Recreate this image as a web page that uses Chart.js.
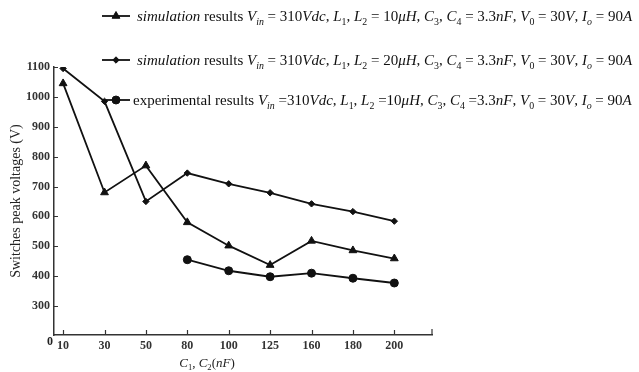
<!DOCTYPE html>
<html>
<head>
<meta charset="utf-8">
<script src="https://cdn.jsdelivr.net/npm/chart.js@4/dist/chart.umd.min.js"></script>
<style>
  html, body { margin: 0; padding: 0; background: #fff; }
  #wrap { width: 639px; height: 372px; }
</style>
</head>
<body>
<div id="wrap"><canvas id="peakChart"></canvas></div>
<script>
// capacitance steps on the x axis (nF)
const capLabels = ['10', '30', '50', '80', '100', '125', '160', '180', '200'];
const yTicks = [300, 400, 500, 600, 700, 800, 900, 1000, 1100];

// switch peak voltages (V)
const sim10uH = [1045, 680, 770, 580, 502, 437, 518, 486, 459];
const sim20uH = [1095, 985, 650, 745, 709, 679, 642, 616, 584];
const experimental = [null, null, null, 455, 418, 398, 410, 393, 377];

// legend text, *..* = italic, _{..} = subscript
const legendText = [
  '*simulation* results *V*_{*in*} = 310*Vdc*, *L*_{1}, *L*_{2} = 10*μH*, *C*_{3}, *C*_{4} = 3.3*nF*, *V*_{0} = 30*V*, *I*_{*o*} = 90*A*',
  '*simulation* results *V*_{*in*} = 310*Vdc*, *L*_{1}, *L*_{2} = 20*μH*, *C*_{3}, *C*_{4} = 3.3*nF*, *V*_{0} = 30*V*, *I*_{*o*} = 90*A*',
  'experimental results *V*_{*in*} =310*Vdc*, *L*_{1}, *L*_{2} =10*μH*, *C*_{3}, *C*_{4} =3.3*nF*, *V*_{0} = 30*V*, *I*_{*o*} = 90*A*'
];
const xTitle = '*C*_{1}, *C*_{2}(*nF*)';

const SERIF = '"Liberation Serif", "Times New Roman", serif';
const INK = '#111';

function toPoints(vals){
  return vals.map((y, i) => ({x: i, y: y})).filter(p => p.y !== null);
}

//split the little markup into runs
function parseRich(str){
  const parts = [];
  let italic = false, sub = false, buf = '';
  const flush = () => { if (buf) { parts.push({t: buf, i: italic, s: sub}); buf = ''; } };
  for (let k = 0; k < str.length; k++) {
    const c = str[k];
    if (c === '*') { flush(); italic = !italic; }
    else if (c === '_' && str[k + 1] === '{') { flush(); sub = true; k++; }
    else if (c === '}' && sub) { flush(); sub = false; }
    else buf += c;
  }
  flush();
  return parts;
}

function runFont(p, size){
  const fs = p.s ? size * 0.66 : size;
  return (p.i ? 'italic ' : '') + fs + 'px ' + SERIF;
}

function richWidth(ctx, str, size){
  let w = 0;
  for (const p of parseRich(str)) { ctx.font = runFont(p, size); w += ctx.measureText(p.t).width; }
  return w;
}

function drawRich(ctx, str, x, y, size){
  ctx.textBaseline = 'alphabetic';
  ctx.textAlign = 'left';
  for (const p of parseRich(str)) {
    ctx.font = runFont(p, size);
    ctx.fillText(p.t, x, y + (p.s ? size * 0.25 : 0));
    x += ctx.measureText(p.t).width;
  }
  return x;
}

const datasets = [
  {label: 'sim 10uH', data: toPoints(sim10uH), pointStyle: 'triangle', pointRadius: 4.5},
  {label: 'sim 20uH', data: toPoints(sim20uH), pointStyle: 'rectRot', pointRadius: 3.2},
  {label: 'experimental', data: toPoints(experimental), pointStyle: 'circle', pointRadius: 4}
].map(d => Object.assign(d, {
  borderColor: INK, backgroundColor: INK, borderWidth: 1.8,
  pointBorderWidth: 1, tension: 0, fill: false
}));

// legend rows, ticks pointing inward, axis title and the lone 0
const decorations = {
  id: 'decorations',
  afterDraw(chart){
    const ctx = chart.ctx;
    const xs = chart.scales.x, ys = chart.scales.y;
    const area = chart.chartArea;
    ctx.save();

    ctx.strokeStyle = '#333';
    ctx.lineWidth = 1.2;
    ctx.beginPath();
    yTicks.forEach(v => {
      const py = Math.round(ys.getPixelForValue(v)) + 0.5;
      ctx.moveTo(area.left, py); ctx.lineTo(area.left + 4, py);
    });
    capLabels.forEach((_, i) => {
      const px = Math.round(xs.getPixelForValue(i)) + 0.5;
      ctx.moveTo(px, area.bottom); ctx.lineTo(px, area.bottom - 5);
    });
    ctx.moveTo(area.right, area.bottom); ctx.lineTo(area.right, area.bottom - 6);
    ctx.stroke();

    ctx.fillStyle = '#222';
    ctx.font = 'bold 12px ' + SERIF;
    ctx.textAlign = 'center';
    ctx.textBaseline = 'middle';
    ctx.fillText('0', 50, 342);

    const xw = richWidth(ctx, xTitle, 13);
    drawRich(ctx, xTitle, 207 - xw / 2, 367, 13);

    const rows = [16, 60, 100];
    const textX = [137, 137, 133];
    datasets.forEach((d, i) => {
      const y = rows[i];
      ctx.strokeStyle = INK;
      ctx.fillStyle = INK;
      ctx.lineWidth = 1.8;
      ctx.beginPath();
      ctx.moveTo(102, y); ctx.lineTo(130, y);
      ctx.stroke();
      ctx.lineWidth = 1;
      Chart.helpers.drawPoint(ctx, {pointStyle: d.pointStyle, radius: d.pointRadius, rotation: 0, borderWidth: 1}, 116, y);
      ctx.fillStyle = '#111';
      drawRich(ctx, legendText[i], textX[i], y + 5, 15);
    });
    ctx.restore();
  }
};

new Chart(document.getElementById('peakChart'), {
  type: 'line',
  data: {datasets: datasets},
  options: {
    responsive: true,
    maintainAspectRatio: false,
    animation: false,
    layout: {padding: {left: 0, top: 67, right: 207, bottom: 0}},
    plugins: {legend: {display: false}, tooltip: {enabled: false}},
    scales: {
      x: {
        type: 'linear',
        min: -0.22,
        max: 8.91,
        afterBuildTicks: s => { s.ticks = capLabels.map((_, i) => ({value: i})); },
        afterFit: s => { s.height = 37; },
        grid: {drawOnChartArea: false, drawTicks: false},
        border: {color: '#333', width: 1.5},
        ticks: {
          callback: v => capLabels[v] || '',
          font: {family: SERIF, size: 12, weight: 'bold'},
          color: '#333',
          padding: 4,
          maxRotation: 0,
          autoSkip: false
        }
      },
      y: {
        type: 'linear',
        min: 203,
        max: 1100,
        afterBuildTicks: s => { s.ticks = yTicks.map(v => ({value: v})); },
        afterFit: s => { s.width = 54; },
        grid: {drawOnChartArea: false, drawTicks: false},
        border: {color: '#333', width: 1.5},
        title: {
          display: true,
          text: 'Switches peak voltages (V)',
          font: {family: SERIF, size: 14},
          color: '#222',
          padding: {top: 8, bottom: 0}
        },
        ticks: {
          callback: v => String(v),
          font: {family: SERIF, size: 12, weight: 'bold'},
          color: '#333',
          padding: 4
        }
      }
    }
  },
  plugins: [decorations]
});
</script>
</body>
</html>
